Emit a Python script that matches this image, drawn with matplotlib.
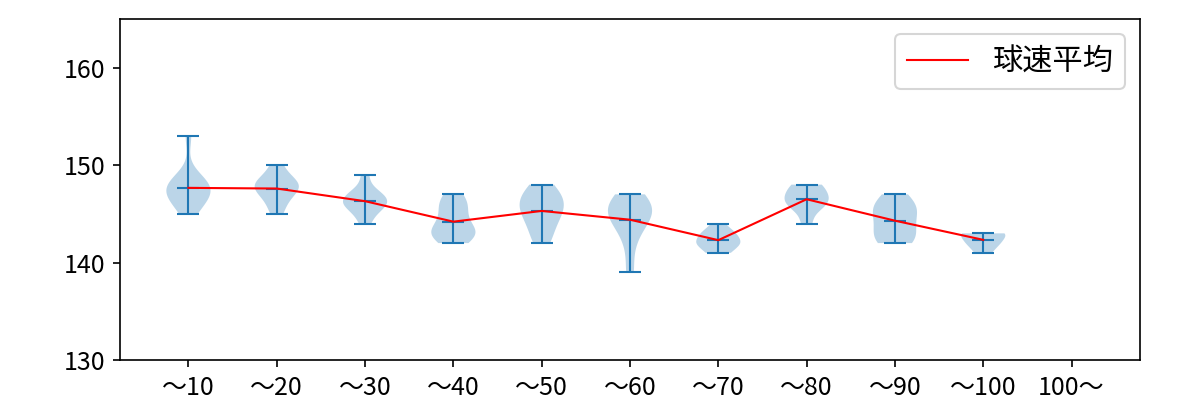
import numpy as np
import matplotlib
matplotlib.use("Agg")
import matplotlib.pyplot as plt

plt.rcParams['font.family'] = ['Noto Sans CJK JP', 'DejaVu Sans']

labels = ['～10', '～20', '～30', '～40', '～50', '～60', '～70', '～80', '～90', '～100', '100～']

v10 = [145, 146, 147, 147, 148, 148, 147, 148, 146, 149, 148, 153]
v20 = [145, 147, 148, 148, 147, 148, 149, 150, 146, 148]
v30 = [144, 146, 147, 146, 147, 149, 146, 147, 145, 146]
v40 = [142, 143, 143, 144, 143, 145, 147, 143, 146, 146]
v50 = [142, 144, 145, 146, 146, 147, 147, 148, 145, 143]
v60 = [139, 142, 144, 145, 146, 146, 145, 147, 146, 144]
v70 = [141, 142, 142, 143, 144, 141, 142, 143, 142, 143]
v80 = [144, 146, 147, 148, 147, 146, 148, 146]
v90 = [142, 143, 144, 145, 146, 147, 142, 143, 145, 146]
v100 = [141, 142, 143, 143, 142, 143]

data = [v10, v20, v30, v40, v50, v60, v70, v80, v90, v100]
pos = list(range(1, len(data) + 1))
means = [np.mean(d) for d in data]

fig, ax = plt.subplots(figsize=(8, 8 / 3), dpi=150)
fig.subplots_adjust(left=0.1, right=0.95, top=0.9525, bottom=0.1)

parts = ax.violinplot(data, positions=pos, showmeans=True, showextrema=True)
for k in ['cbars', 'cmins', 'cmaxes', 'cmeans']:
    parts[k].set_linewidth(1)
ax.plot(pos, means, color='red', lw=1, label='球速平均')

ax.set_xticks(range(1, len(labels) + 1))
ax.set_xticklabels(labels)
ax.set_xlim(0.225, 11.775)
ax.set_ylim(130, 165)
ax.set_yticks([130, 140, 150, 160])
ax.tick_params(labelsize=12)
ax.legend(loc='upper right', fontsize=14.5)

plt.savefig('out.png')
